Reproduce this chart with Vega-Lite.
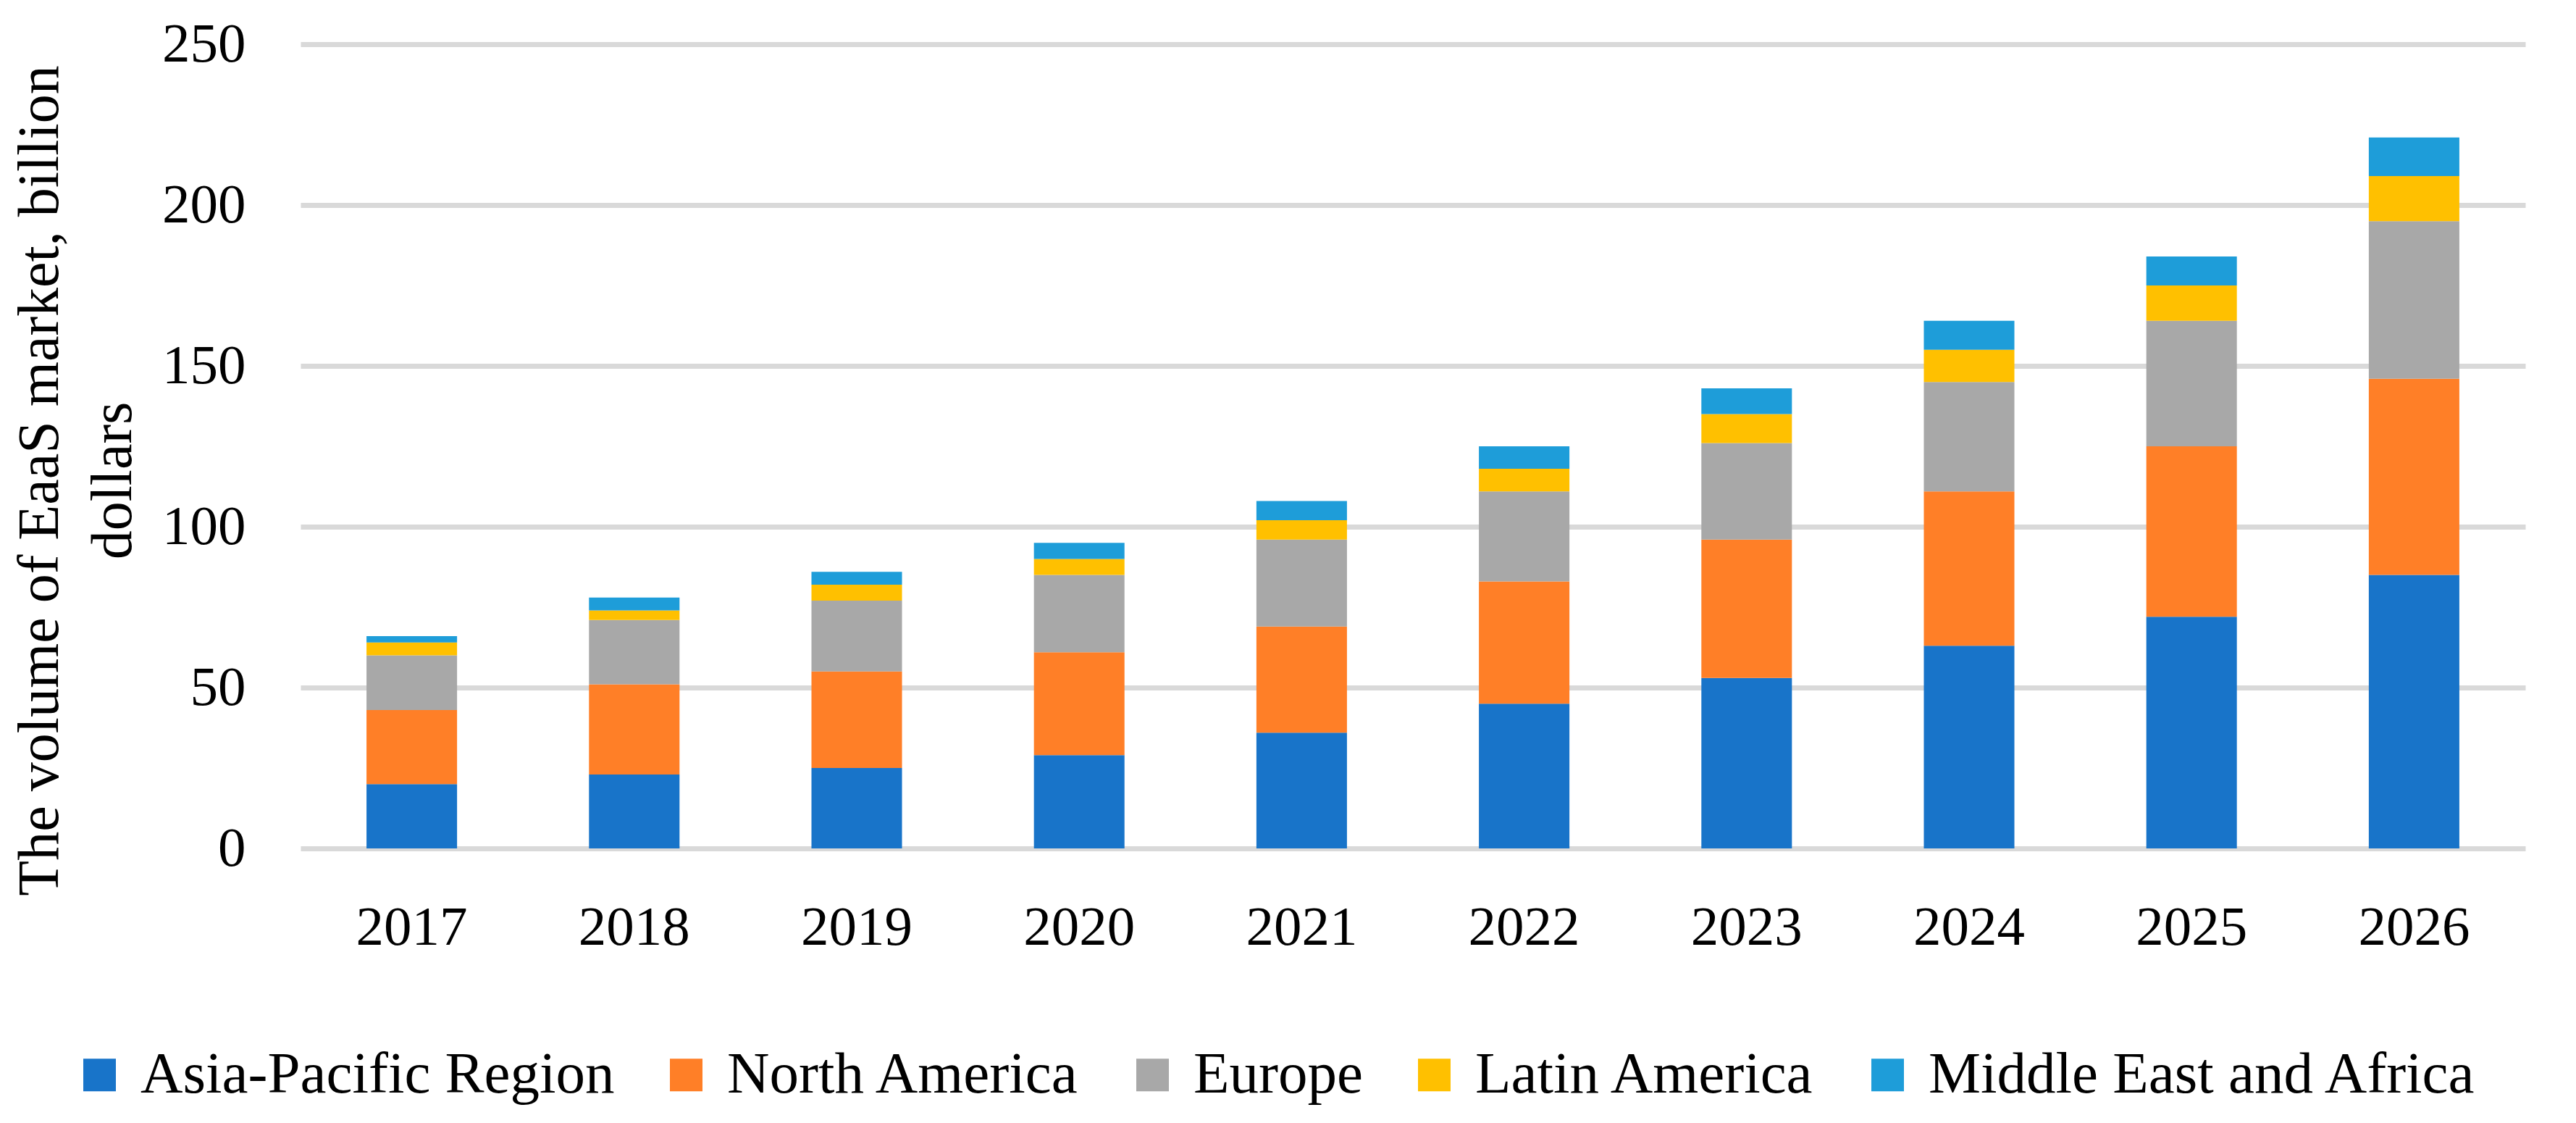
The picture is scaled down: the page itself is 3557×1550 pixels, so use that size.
{
  "$schema": "https://vega.github.io/schema/vega-lite/v6.json",
  "autosize": {"type": "none"},
  "padding": {"left": 415, "top": 61, "right": 70, "bottom": 379},
  "width": 3072,
  "height": 1110,
  "background": "white",
  "data": {"values": [
    {"year": "2017", "region": "Asia-Pacific Region", "k": 1, "value": 20},
    {"year": "2017", "region": "North America", "k": 2, "value": 23},
    {"year": "2017", "region": "Europe", "k": 3, "value": 17},
    {"year": "2017", "region": "Latin America", "k": 4, "value": 4},
    {"year": "2017", "region": "Middle East and Africa", "k": 5, "value": 2},
    {"year": "2018", "region": "Asia-Pacific Region", "k": 1, "value": 23},
    {"year": "2018", "region": "North America", "k": 2, "value": 28},
    {"year": "2018", "region": "Europe", "k": 3, "value": 20},
    {"year": "2018", "region": "Latin America", "k": 4, "value": 3},
    {"year": "2018", "region": "Middle East and Africa", "k": 5, "value": 4},
    {"year": "2019", "region": "Asia-Pacific Region", "k": 1, "value": 25},
    {"year": "2019", "region": "North America", "k": 2, "value": 30},
    {"year": "2019", "region": "Europe", "k": 3, "value": 22},
    {"year": "2019", "region": "Latin America", "k": 4, "value": 5},
    {"year": "2019", "region": "Middle East and Africa", "k": 5, "value": 4},
    {"year": "2020", "region": "Asia-Pacific Region", "k": 1, "value": 29},
    {"year": "2020", "region": "North America", "k": 2, "value": 32},
    {"year": "2020", "region": "Europe", "k": 3, "value": 24},
    {"year": "2020", "region": "Latin America", "k": 4, "value": 5},
    {"year": "2020", "region": "Middle East and Africa", "k": 5, "value": 5},
    {"year": "2021", "region": "Asia-Pacific Region", "k": 1, "value": 36},
    {"year": "2021", "region": "North America", "k": 2, "value": 33},
    {"year": "2021", "region": "Europe", "k": 3, "value": 27},
    {"year": "2021", "region": "Latin America", "k": 4, "value": 6},
    {"year": "2021", "region": "Middle East and Africa", "k": 5, "value": 6},
    {"year": "2022", "region": "Asia-Pacific Region", "k": 1, "value": 45},
    {"year": "2022", "region": "North America", "k": 2, "value": 38},
    {"year": "2022", "region": "Europe", "k": 3, "value": 28},
    {"year": "2022", "region": "Latin America", "k": 4, "value": 7},
    {"year": "2022", "region": "Middle East and Africa", "k": 5, "value": 7},
    {"year": "2023", "region": "Asia-Pacific Region", "k": 1, "value": 53},
    {"year": "2023", "region": "North America", "k": 2, "value": 43},
    {"year": "2023", "region": "Europe", "k": 3, "value": 30},
    {"year": "2023", "region": "Latin America", "k": 4, "value": 9},
    {"year": "2023", "region": "Middle East and Africa", "k": 5, "value": 8},
    {"year": "2024", "region": "Asia-Pacific Region", "k": 1, "value": 63},
    {"year": "2024", "region": "North America", "k": 2, "value": 48},
    {"year": "2024", "region": "Europe", "k": 3, "value": 34},
    {"year": "2024", "region": "Latin America", "k": 4, "value": 10},
    {"year": "2024", "region": "Middle East and Africa", "k": 5, "value": 9},
    {"year": "2025", "region": "Asia-Pacific Region", "k": 1, "value": 72},
    {"year": "2025", "region": "North America", "k": 2, "value": 53},
    {"year": "2025", "region": "Europe", "k": 3, "value": 39},
    {"year": "2025", "region": "Latin America", "k": 4, "value": 11},
    {"year": "2025", "region": "Middle East and Africa", "k": 5, "value": 9},
    {"year": "2026", "region": "Asia-Pacific Region", "k": 1, "value": 85},
    {"year": "2026", "region": "North America", "k": 2, "value": 61},
    {"year": "2026", "region": "Europe", "k": 3, "value": 49},
    {"year": "2026", "region": "Latin America", "k": 4, "value": 14},
    {"year": "2026", "region": "Middle East and Africa", "k": 5, "value": 12}
  ]},
  "mark": {"type": "bar"},
  "encoding": {
    "x": {
      "field": "year", "type": "nominal", "sort": null,
      "scale": {"paddingInner": 0.593, "paddingOuter": 0.2965},
      "axis": {
        "title": null, "labelAngle": 0, "ticks": false, "domain": false, "grid": false,
        "labelFont": "Liberation Serif", "labelFontSize": 77, "labelColor": "#000000",
        "labelPadding": 71
      }
    },
    "y": {
      "field": "value", "type": "quantitative", "aggregate": "sum", "stack": "zero",
      "scale": {"domain": [0, 250], "nice": false},
      "axis": {
        "values": [0, 50, 100, 150, 200, 250],
        "ticks": false, "domain": false,
        "grid": true, "gridColor": "#D9D9D9", "gridWidth": 7, "gridOpacity": 1,
        "labelFont": "Liberation Serif", "labelFontSize": 77, "labelColor": "#000000",
        "labelPadding": 76,
        "title": ["The volume of EaaS market, billion", "dollars"],
        "titleFont": "Liberation Serif", "titleFontSize": 80, "titleFontWeight": "normal",
        "titleColor": "#000000", "titleLineHeight": 101,
        "titleAnchor": "middle", "titleAlign": "center", "titleX": -336, "titleY": 602, "titleAngle": -90,
        "titleBaseline": "alphabetic"
      }
    },
    "color": {
      "field": "region", "type": "nominal",
      "scale": {
        "domain": ["Asia-Pacific Region", "North America", "Europe", "Latin America", "Middle East and Africa"],
        "range": ["#1874C9", "#FF7F27", "#A8A8A8", "#FFC000", "#1E9DD9"]
      },
      "legend": {
        "title": null, "orient": "none", "direction": "horizontal",
        "legendX": -318, "legendY": 1382,
        "symbolType": "square", "symbolSize": 2025, "symbolStrokeWidth": 0,
        "labelFont": "Liberation Serif", "labelFontSize": 81, "labelColor": "#000000",
        "labelOffset": 16, "columnPadding": 58, "labelLimit": 2000
      }
    },
    "order": {"field": "k", "type": "quantitative"}
  },
  "config": {"view": {"stroke": null}}
}
